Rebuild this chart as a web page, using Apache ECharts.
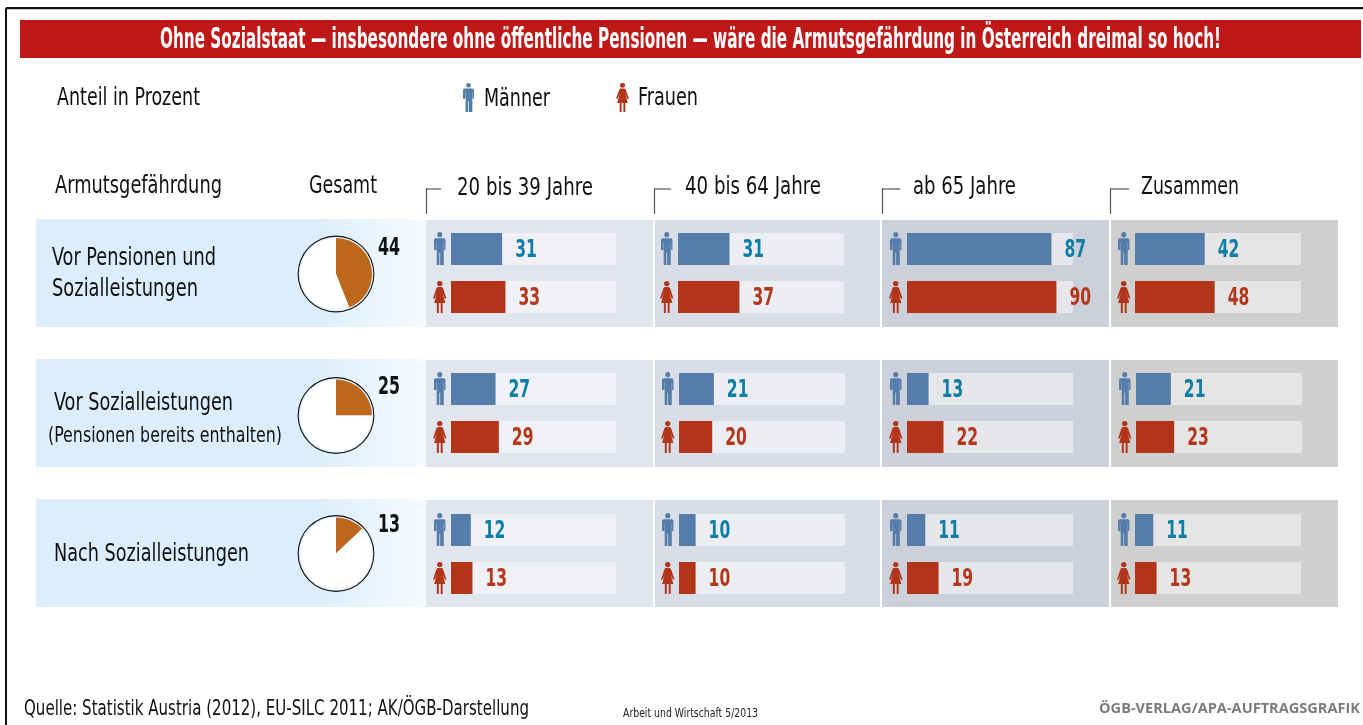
<!DOCTYPE html>
<html>
<head>
<meta charset="utf-8">
<title>Armutsgefährdung</title>
<script src="https://cdn.jsdelivr.net/npm/echarts@6/dist/echarts.min.js"></script>
<style>
  html, body { margin: 0; padding: 0; background: #fff; }
  #chart { width: 1363px; height: 725px; }
</style>
</head>
<body>
<div id="chart"></div>
<script>
// Werte
const rowNames = ['Vor Pensionen und Sozialleistungen', 'Vor Sozialleistungen', 'Nach Sozialleistungen']
const colNames = ['20 bis 39 Jahre', '40 bis 64 Jahre', 'ab 65 Jahre', 'Zusammen']
const genders = ['Männer', 'Frauen']
const gesamt = [44, 25, 13]
const maenner = [
  [31, 31, 87, 42],
  [27, 21, 13, 21],
  [12, 10, 11, 11],
]
const frauen = [
  [33, 37, 90, 48],
  [29, 20, 22, 23],
  [13, 10, 19, 13],
]

// Layout
const FONT = '"DejaVu Sans Condensed", "Liberation Sans", sans-serif'
const panelTop = [220, 360, 500]
const panelHeight = 107
const panelX = [[426, 653], [655, 880], [882, 1109], [1111, 1338]]
const panelColor = ['#e1e5ee', '#d9dde7', '#cbd0da', '#cfcfcf']
const trackColor = ['#f0f1f6', '#eceef3', '#e6e7eb', '#e5e5e5']
const trackLeft = [
  [451, 678, 907, 1135],
  [451, 679, 907, 1136],
  [451, 679, 907, 1135],
]
const trackWidth = [165, 166, 166, 166]
const gridTop = [225, 365, 506]
const pieY = [274, 415.5, 553.5]
const pieLabelY = [249, 388, 526]
const manColor = '#557da9'
const womanColor = '#b23519'
const labelColor = ['#0f7ea6', '#b5371b']
const ORANGE = '#bc671b'

// Piktogramme, 12x32 und 13x32
const manIcon = 'M6 0a2.6 2.6 0 1 0 .01 0zM2 6h8q2 0 2 2v9.5h-1.5V10h-.3v22H6.400V20H5.600v12H2.800V10h-.3v7.500H0V8q0-2 2-2z'
const womanIcon = 'M6.500 0a2.600 2.600 0 1 0 .01 0zM4.700 6h3.600q1 0 1.500 1.500L13 17.500h-1.700l-2-5.500 2.600 10H9.300v10H7.400V22H5.600v10H3.700V22H1.100l2.600-10-2 5.500H0L3.200 7.500Q3.700 6 4.700 6z'
echarts.graphic.registerShape('manIcon', echarts.graphic.extendPath(manIcon, {}))
echarts.graphic.registerShape('womanIcon', echarts.graphic.extendPath(womanIcon, {}))

// [Text, x, y-Mitte, Zielbreite, Schriftgröße, Gewicht, Farbe, Schrift]
const texts = [
  ['Ohne Sozialstaat — insbesondere ohne öffentliche Pensionen — wäre die Armutsgefährdung in Österreich dreimal so hoch!', 160, 41, 1061, 28, 'bold', '#fff'],
  ['Anteil in Prozent', 57, 98, 143, 25, 'normal', '#111'],
  ['Männer', 484, 99, 66, 25, 'normal', '#111'],
  ['Frauen', 638, 98, 60, 25, 'normal', '#111'],
  ['Armutsgefährdung', 55, 186, 167, 25, 'normal', '#111'],
  ['Gesamt', 309, 186, 68, 25, 'normal', '#111'],
  [colNames[0], 457, 188, 136, 25, 'normal', '#111'],
  [colNames[1], 685, 187, 136, 25, 'normal', '#111'],
  [colNames[2], 913, 187, 103, 25, 'normal', '#111'],
  [colNames[3], 1141, 187, 98, 25, 'normal', '#111'],
  ['Vor Pensionen und', 52, 258, 164, 25, 'normal', '#111'],
  ['Sozialleistungen', 52, 289, 146, 25, 'normal', '#111'],
  ['Vor Sozialleistungen', 54, 403, 179, 25, 'normal', '#111'],
  ['(Pensionen bereits enthalten)', 48, 437, 234, 21, 'normal', '#111'],
  ['Nach Sozialleistungen', 54, 554, 195, 25, 'normal', '#111'],
  ['Quelle: Statistik Austria (2012), EU-SILC 2011; AK/ÖGB-Darstellung', 24, 709, 505, 22, 'normal', '#111'],
  ['Arbeit und Wirtschaft 5/2013', 623, 714, 135, 13, 'normal', '#222'],
  ['ÖGB-VERLAG/APA-AUFTRAGSGRAFIK', 1099, 709, 261, 15, 'bold', '#7b7b7b', '"Open Sans", sans-serif'],
]

const measure = document.createElement('canvas').getContext('2d')

function textEl([text, x, y, w, size, weight, fill, family]) {
  const font = `${weight} ${size}px ${family || FONT}`
  measure.font = font
  return {
    type: 'text',
    x, y,
    scaleX: w / measure.measureText(text).width,
    z: 5,
    silent: true,
    style: { text, x: 0, y: 0, font, fill, textAlign: 'left', textVerticalAlign: 'middle' },
  }
}

function iconEl(type, x, y, scaleX, scaleY, fill) {
  return { type, x, y, scaleX, scaleY, z: 5, silent: true, style: { fill } }
}

function rectEl(x, y, width, height, fill) {
  return { type: 'rect', z: 0, silent: true, shape: { x, y, width, height }, style: { fill } }
}

function lineEl(x1, y1, x2, y2, stroke, lineWidth) {
  return { type: 'line', z: 1, silent: true, shape: { x1, y1, x2, y2 }, style: { stroke, lineWidth } }
}

const graphics = [
  // Rahmen und Titelbalken
  lineEl(6, 8, 1363, 8, '#111', 2),
  lineEl(6, 9.5, 1363, 9.5, '#c8c8c8', 1),
  lineEl(6, 8, 6, 725, '#111', 2),
  rectEl(20, 20, 1341, 38, '#bf1818'),
  iconEl('manIcon', 463, 83, 11 / 12, 29 / 32, manColor),
  iconEl('womanIcon', 616, 83, 1, 29 / 32, womanColor),
]

const bracketX = [426, 654, 882, 1110]
const bracketW = [15, 17, 18, 19]
bracketX.forEach((x, c) => {
  graphics.push(lineEl(x + 0.5, 214, x + 0.5, 188.5, '#555', 1.2))
  graphics.push(lineEl(x, 189, x + bracketW[c], 189, '#555', 1.2))
})

panelTop.forEach((top, r) => {
  graphics.push({
    type: 'rect', z: 0, silent: true,
    shape: { x: 36, y: top - 1, width: 390, height: panelHeight + 1 },
    style: {
      fill: new echarts.graphic.LinearGradient(0, 0, 1, 0, [
        { offset: 0, color: '#dceefb' },
        { offset: 0.72, color: '#dceefb' },
        { offset: 1, color: '#f6fbfe' },
      ]),
    },
  })
  panelX.forEach(([x1, x2], c) => {
    graphics.push(rectEl(x1, top, x2 - x1, panelHeight, panelColor[c]))
    const left = trackLeft[r][c]
    graphics.push(iconEl('manIcon', left - 17, gridTop[r] + 7, 11.5 / 12, 33 / 32, manColor))
    graphics.push(iconEl('womanIcon', left - 18, gridTop[r] + 56, 13.5 / 13, 1, womanColor))
  })
})

const grids = []
const xAxes = []
const yAxes = []
const series = []

// Zahl neben dem Balken, schmal gezogen wie in der Vorlage
function renderValue(params, api) {
  const value = api.value(0)
  const p = api.coord([value, api.value(1)])
  return {
    type: 'text',
    x: p[0] + 13,
    y: p[1] + 2,
    scaleX: 0.72,
    style: {
      text: String(value),
      font: `bold 24px ${FONT}`,
      fill: labelColor[params.dataIndex],
      textAlign: 'left',
      textVerticalAlign: 'middle',
    },
  }
}

rowNames.forEach((name, r) => {
  colNames.forEach((col, c) => {
    const idx = grids.length
    grids.push({ left: trackLeft[r][c], top: gridTop[r], width: trackWidth[c], height: 96 })
    xAxes.push({ gridIndex: idx, type: 'value', min: 0, max: 100, show: false })
    yAxes.push({ gridIndex: idx, type: 'category', inverse: true, data: genders, show: false })
    series.push({
      name: `${name} – ${col}`,
      type: 'bar',
      xAxisIndex: idx,
      yAxisIndex: idx,
      barWidth: 32,
      silent: true,
      showBackground: true,
      backgroundStyle: { color: trackColor[c] },
      data: [
        { value: maenner[r][c], itemStyle: { color: manColor } },
        { value: frauen[r][c], itemStyle: { color: womanColor } },
      ],
    })
    series.push({
      type: 'custom',
      xAxisIndex: idx,
      yAxisIndex: idx,
      silent: true,
      z: 4,
      clip: false,
      renderItem: renderValue,
      encode: { x: 0, y: 1 },
      data: [[maenner[r][c], 0], [frauen[r][c], 1]],
    })
  })

  // Kreis für Gesamt
  series.push({
    type: 'pie',
    silent: true,
    center: [336, pieY[r]],
    radius: [37.3, 38.4],
    label: { show: false },
    data: [{ value: 1, itemStyle: { color: '#111' } }],
  })
  series.push({
    name: `${name} – Gesamt`,
    type: 'pie',
    silent: true,
    center: [336, pieY[r]],
    radius: [0, 36],
    startAngle: 90,
    clockwise: true,
    label: { show: false },
    labelLine: { show: false },
    data: [
      { value: gesamt[r], itemStyle: { color: ORANGE } },
      { value: 100 - gesamt[r], itemStyle: { color: '#fff' } },
    ],
  })
  graphics.push(textEl([String(gesamt[r]), 378, pieLabelY[r], 22, 24, 'bold', '#111']))
})

graphics.push(...texts.map(textEl))

const chart = echarts.init(document.getElementById('chart'))
chart.setOption({
  animation: false,
  backgroundColor: '#fff',
  grid: grids,
  xAxis: xAxes,
  yAxis: yAxes,
  series,
  graphic: graphics,
})
</script>
</body>
</html>
